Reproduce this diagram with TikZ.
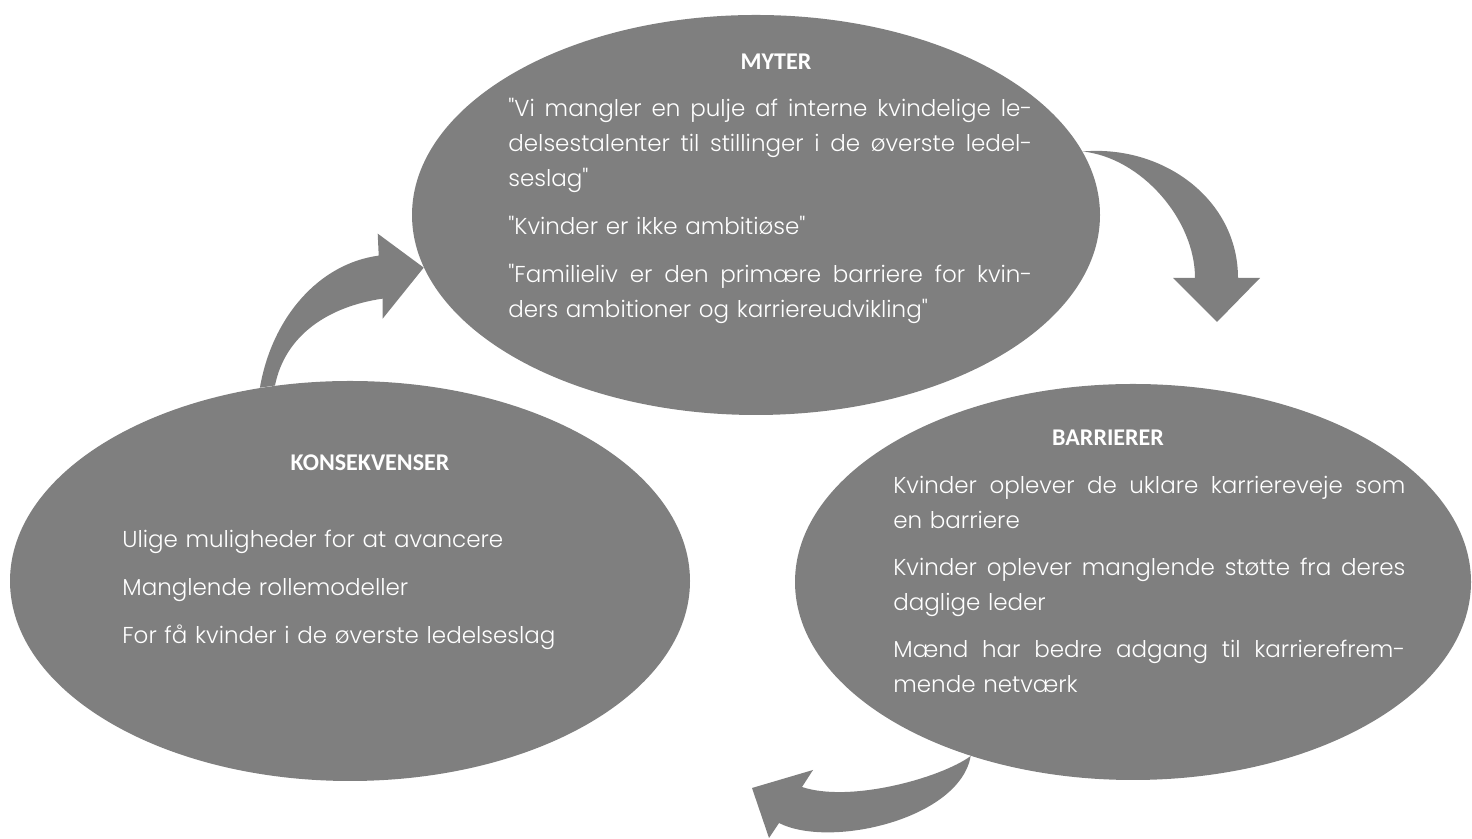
\documentclass[tikz,border=0pt]{standalone}
\usepackage{fontspec}
\newfontfamily\bodyfont{Poppins Light}
\newfontfamily\headfont{Carlito}
\usetikzlibrary{shapes.geometric,calc}
\pgfdeclarelayer{edgelayer}
\pgfdeclarelayer{nodelayer}
\pgfsetlayers{edgelayer,nodelayer,main}
\definecolor{slate}{RGB}{127,127,127}
\tikzstyle{blob}=[ellipse, fill=slate, inner sep=0pt]
\tikzstyle{flow}=[fill=slate]
\tikzstyle{heading}=[text=white, inner sep=0pt, anchor=base, font=\headfont\bfseries\fontsize{12}{14}\selectfont]
\tikzstyle{item}=[text=white, inner sep=0pt, anchor=base west, text width=300pt, align=left, font=\bodyfont\fontsize{11.5}{17.5}\selectfont]
\newcommand{\fullline}[2]{\leavevmode\hbox to #1{\spaceskip=\fontdimen2\font plus 1fil\relax#2}}

\begin{document}
\begin{tikzpicture}[x=0.5pt, y=0.5pt]
	\useasboundingbox (0, 0) rectangle (1472, 839);
	\begin{pgfonlayer}{nodelayer}
		\node [style=blob, minimum width=344pt, minimum height=200pt] (myter) at (756, 624) {};
		\node [style=blob, minimum width=340pt, minimum height=200pt] (kons) at (350, 258) {};
		\node [style=blob, minimum width=338pt, minimum height=198pt] (barr) at (1133, 257) {};
	\end{pgfonlayer}
	\coordinate (drop) at (1217, 517);
	\coordinate (turn) at (752, 51);
	\begin{pgfonlayer}{edgelayer}
		% kons -> myter
		\fill [style=flow] (myter.189) -- ++(-46, 34) -- ++(1, -22) .. controls +(-60, -8) and +(12, 70) .. (kons.115) -- (kons.111) .. controls +(10, 50) and +(-55, -8) .. ($(myter.189)+(-41, -31)$) -- ++(0, -20) -- cycle;
		% myter -> barr
		\fill [style=flow] (drop) -- ++(43, 44) -- ++(-22, 0) .. controls +(0, 79) and +(80, 7) .. (myter.11) .. controls +(58, -6) and +(0, 59) .. ($(drop)+(-22, 44)$) -- ++(-22, 0) -- cycle;
		% barr -> kons
		\fill [style=flow] (turn) -- ++(61, 18) -- ++(-11, -17) .. controls +(48, -16) and +(-30, -22) .. (barr.227) .. controls +(-11, -63) and +(51, -26) .. ($(turn)+(27, -35)$) -- ++(-10, -15) -- cycle;
	\end{pgfonlayer}
	% myter
	\node [style=heading] (myterhead) at (776, 769) {MYTER};
	\node [style=item] (myter1) at (508, 722) {\fullline{262pt}{"Vi mangler en pulje af interne kvindelige le-}\\\fullline{262pt}{delsestalenter til stillinger i de øverste ledel-}\\seslag"};
	\node [style=item] (myter2) at (508, 604) {"Kvinder er ikke ambitiøse"};
	\node [style=item] (myter3) at (508, 556) {\fullline{262pt}{"Familieliv er den primære barriere for kvin-}\\ders ambitioner og karriereudvikling"};
	% konsekvenser
	\node [style=heading] (konshead) at (370, 368) {KONSEKVENSER};
	\node [style=item] (kons1) at (122, 291) {Ulige muligheder for at avancere};
	\node [style=item] (kons2) at (122, 243) {Manglende rollemodeller};
	\node [style=item] (kons3) at (122, 195) {For få kvinder i de øverste ledelseslag};
	% barrierer
	\node [style=heading] (barrhead) at (1108, 393) {BARRIERER};
	\node [style=item] (barr1) at (893, 345) {\fullline{256pt}{Kvinder oplever de uklare karriereveje som}\\en barriere};
	\node [style=item] (barr2) at (893, 263) {\fullline{256pt}{Kvinder oplever manglende støtte fra deres}\\daglige leder};
	\node [style=item] (barr3) at (893, 181) {\fullline{256pt}{Mænd har bedre adgang til karrierefrem-}\\mende netværk};
\end{tikzpicture}
\end{document}
